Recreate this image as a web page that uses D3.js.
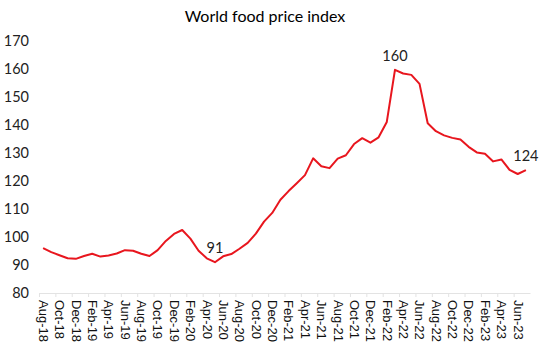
<!DOCTYPE html>
<html>
<head>
<meta charset="utf-8">
<script src="https://cdn.jsdelivr.net/npm/d3@7"></script>
<style>
  body { margin: 0; background: #fff; }
  svg { display: block; }
</style>
</head>
<body>
<div id="chart"></div>
<script>
// WORLD FOOD PRICE INDEX (monthly, Aug-18 .. Jul-23)

const months = [
    "Aug-18", "Sep-18", "Oct-18", "Nov-18", "Dec-18",
    "Jan-19", "Feb-19", "Mar-19", "Apr-19", "May-19", "Jun-19", "Jul-19", "Aug-19", "Sep-19", "Oct-19", "Nov-19", "Dec-19",
    "Jan-20", "Feb-20", "Mar-20", "Apr-20", "May-20", "Jun-20", "Jul-20", "Aug-20", "Sep-20", "Oct-20", "Nov-20", "Dec-20",
    "Jan-21", "Feb-21", "Mar-21", "Apr-21", "May-21", "Jun-21", "Jul-21", "Aug-21", "Sep-21", "Oct-21", "Nov-21", "Dec-21",
    "Jan-22", "Feb-22", "Mar-22", "Apr-22", "May-22", "Jun-22", "Jul-22", "Aug-22", "Sep-22", "Oct-22", "Nov-22", "Dec-22",
    "Jan-23", "Feb-23", "Mar-23", "Apr-23", "May-23", "Jun-23", "Jul-23"
];

const priceIndex = [
    96.0, 94.6, 93.5, 92.4, 92.2,
    93.2, 94.0, 93.0, 93.4, 94.1, 95.3, 95.1, 94.0, 93.2, 95.3, 98.6, 101.1,
    102.5, 99.4, 95.1, 92.4, 91.0, 93.1, 93.9, 95.8, 97.9, 101.2, 105.5, 108.6,
    113.3, 116.4, 119.2, 122.1, 128.1, 125.3, 124.6, 128.0, 129.2, 133.2, 135.3, 133.7,
    135.6, 141.1, 159.7, 158.4, 157.9, 154.7, 140.6, 137.8, 136.3, 135.4, 134.8, 132.2,
    130.2, 129.7, 127.0, 127.7, 124.0, 122.5, 123.9
];

// points that carry a value label
const labelled = ["May-20", "Mar-22", "Jul-23"];

const yTicks = [80, 90, 100, 110, 120, 130, 140, 150, 160, 170];

const W = 540, H = 351;
const margin = { top: 41, right: 10, bottom: 58, left: 39 };

const svg = d3.select("#chart").append("svg")
    .attr("width", W)
    .attr("height", H);

const x = d3.scalePoint()
    .domain(months)
    .range([margin.left, W - margin.right])
    .padding(0.5);

const y = d3.scaleLinear()
    .domain([80, 170])
    .range([H - margin.bottom, margin.top]);

// Title
svg.append("text")
    .attr("x", 265)
    .attr("y", 22)
    .attr("text-anchor", "middle")
    .attr("font-family", "Lato, 'Open Sans', sans-serif")
    .attr("font-size", "16px")
    .attr("fill", "#000")
    .text("World food price index");

// Y axis (labels only)
const yAxis = svg.append("g")
    .attr("transform", `translate(${margin.left - 10},0)`)
    .call(d3.axisLeft(y).tickValues(yTicks).tickSize(0).tickPadding(0));
yAxis.select(".domain").remove();
yAxis.selectAll("text")
    .attr("font-family", "Lato, 'Open Sans', sans-serif")
    .attr("font-size", "14.5px")
    .attr("fill", "#222");

// X axis
const step = x.step();
const xAxis = svg.append("g")
    .attr("transform", `translate(0,${y(80)})`)
    .call(d3.axisBottom(x)
        .tickValues(months.filter((d, i) => i % 2 === 0))
        .tickSize(0)
        .tickPadding(0));
xAxis.select(".domain")
    .attr("stroke", "#e3e3e3")
    .attr("stroke-width", 1);
xAxis.selectAll(".tick text")
    .attr("transform", "rotate(90)")
    .attr("text-anchor", "start")
    .attr("dy", "0.36em")
    .attr("x", 7)
    .attr("y", 0)
    .attr("font-family", "'Liberation Sans', Arial, sans-serif")
    .attr("font-size", "13px")
    .attr("fill", "#111");

// tick marks sit between categories, every second one
xAxis.selectAll(".tick")
    .append("line")
    .attr("x1", -step / 2)
    .attr("x2", -step / 2)
    .attr("y1", 0)
    .attr("y2", 4)
    .attr("stroke", "#e3e3e3");

// Line
const line = d3.line()
    .x((d, i) => x(months[i]))
    .y(d => y(d));

svg.append("path")
    .datum(priceIndex)
    .attr("fill", "none")
    .attr("stroke", "#e8161e")
    .attr("stroke-width", 2)
    .attr("stroke-linejoin", "round")
    .attr("d", line);

// Value labels
svg.selectAll(".value-label")
    .data(labelled)
    .join("text")
    .attr("class", "value-label")
    .attr("x", d => x(d))
    .attr("y", d => y(priceIndex[months.indexOf(d)]) - 9)
    .attr("text-anchor", "middle")
    .attr("font-family", "Lato, 'Open Sans', sans-serif")
    .attr("font-size", "14.5px")
    .attr("fill", "#222")
    .text(d => Math.round(priceIndex[months.indexOf(d)]));
</script>
</body>
</html>
